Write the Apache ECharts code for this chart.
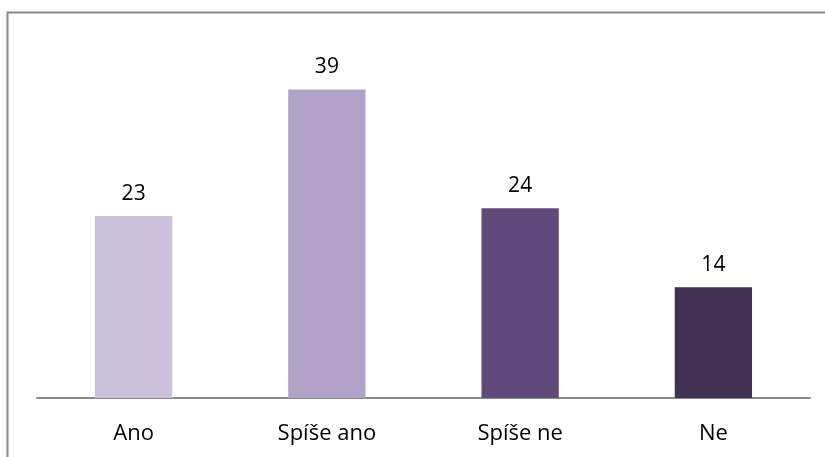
<!DOCTYPE html>
<html><head><meta charset="utf-8">
<script src="https://cdn.jsdelivr.net/npm/echarts@6/dist/echarts.min.js"></script>
<style>html,body{margin:0;padding:0;background:#fff}#c{width:825px;height:457px}</style>
</head><body><div id="c"></div>
<script>
const categories = ['Ano', 'Spíše ano', 'Spíše ne', 'Ne'];
const values = [23, 39, 24, 14];
const colors = ['#CCC1DC', '#B3A2C7', '#604A7B', '#403152'];

const chart = echarts.init(document.getElementById('c'), null, {renderer: 'canvas'});
chart.setOption({
  animation: false,
  graphic: [{
    type: 'rect', shape: {x: 7.5, y: 12.5, width: 840, height: 470},
    style: {fill: 'none', stroke: '#8a8a8a', lineWidth: 2}, silent: true
  }],
  grid: {left: 37, right: 15, top: 42, bottom: 59},
  xAxis: {
    type: 'category', data: categories,
    axisLine: {lineStyle: {color: '#8a8a8a', width: 2}},
    axisTick: {show: false},
    axisLabel: {color: '#000', fontFamily: 'Open Sans', fontSize: 22, margin: 25}
  },
  yAxis: {type: 'value', min: 0, max: 45, show: false, splitLine: {show: false}},
  series: [{
    type: 'bar', barWidth: '40%',
    data: values.map((v, i) => ({value: v, itemStyle: {color: colors[i]}})),
    label: {show: true, position: 'top', distance: 12, color: '#000', fontFamily: 'Open Sans', fontSize: 21}
  }]
});
</script></body></html>
